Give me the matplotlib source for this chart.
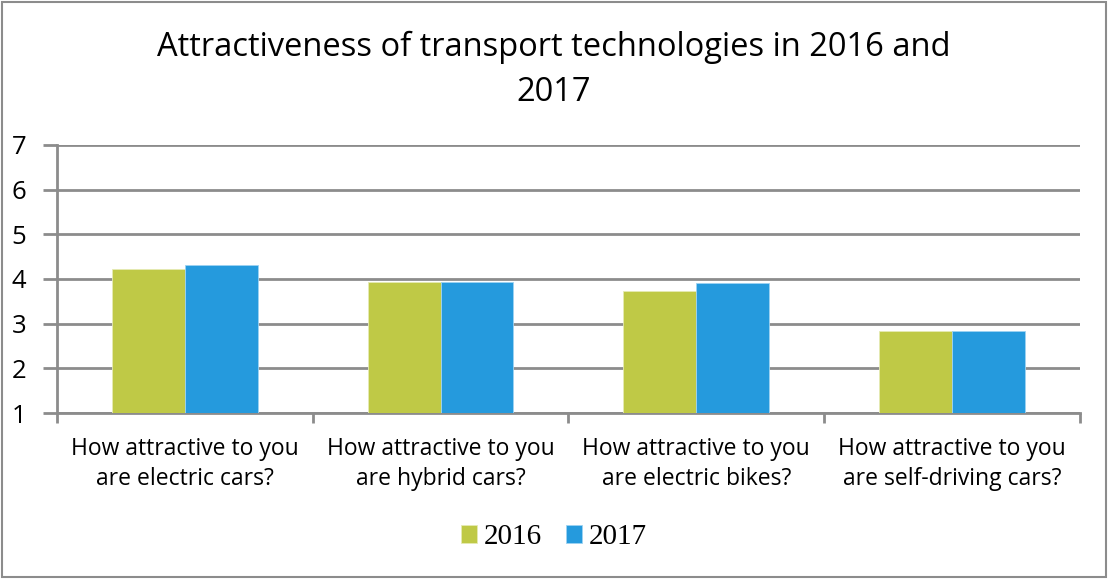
import matplotlib
matplotlib.use('Agg')
import matplotlib.pyplot as plt
import numpy as np
from matplotlib.patches import Rectangle

categories = ['How attractive to you\nare electric cars?',
              'How attractive to you\nare hybrid cars?',
              'How attractive to you\nare electric bikes?',
              'How attractive to you\nare self-driving cars?']
vals_2016 = [4.22, 3.93, 3.73, 2.83]
vals_2017 = [4.31, 3.93, 3.91, 2.83]
series_names = ['2016', '2017']
yticks = [1, 2, 3, 4, 5, 6, 7]

green = '#BFC946'
blue = '#259ADD'
grid_c = '#8C8C8C'

fig = plt.figure(figsize=(11.08, 5.79), dpi=100)
ax = fig.add_axes([0.0514, 0.2867, 0.9233, 0.4629])

x = np.arange(len(categories))
w = 0.285
ax.bar(x - w / 2, np.array(vals_2016) - 1, w, bottom=1, color=green,
       edgecolor='#E6EBB5', linewidth=0.6, label=series_names[0], zorder=3)
ax.bar(x + w / 2, np.array(vals_2017) - 1, w, bottom=1, color=blue,
       edgecolor='#9ED3F2', linewidth=0.6, label=series_names[1], zorder=3)

ax.set_ylim(1, 7)
ax.set_xlim(-0.5, len(categories) - 0.5)
ax.set_yticks(yticks)
ax.set_yticklabels([str(t) for t in yticks], fontsize=18.5, family='Open Sans')
ax.yaxis.grid(True, color=grid_c, linewidth=2, zorder=0)
ax.set_axisbelow(True)

# category labels centred, tick marks on the boundaries
ax.set_xticks(x)
ax.set_xticklabels(categories, fontsize=16.5, family='Open Sans', linespacing=1.35)
ax.tick_params(axis='x', length=0, pad=17)
ax.set_xticks(np.arange(-0.5, len(categories)), minor=True)
ax.tick_params(axis='x', which='minor', length=7, width=2, color=grid_c)
ax.tick_params(axis='y', length=10, width=2, color=grid_c, pad=12)

for s in ['top', 'right']:
    ax.spines[s].set_visible(False)
ax.spines['left'].set_color(grid_c)
ax.spines['left'].set_linewidth(2)
ax.spines['bottom'].set_color(grid_c)
ax.spines['bottom'].set_linewidth(2)

fig.text(0.5, 0.879, 'Attractiveness of transport technologies in 2016 and\n2017',
         ha='center', va='center', fontsize=23.5, family='Open Sans', linespacing=1.5)

leg = fig.legend(loc='center', bbox_to_anchor=(0.5, 0.072), ncol=2, frameon=False,
                 prop={'family': 'Liberation Serif', 'size': 21},
                 handlelength=0.55, handleheight=0.55, handletextpad=0.25,
                 columnspacing=0.8)

fig.patches.append(Rectangle((0.002, 0.003), 0.996, 0.994, transform=fig.transFigure,
                             fill=False, edgecolor='#8C8C8C', linewidth=1.5))

fig.savefig('out.png', dpi=100)
